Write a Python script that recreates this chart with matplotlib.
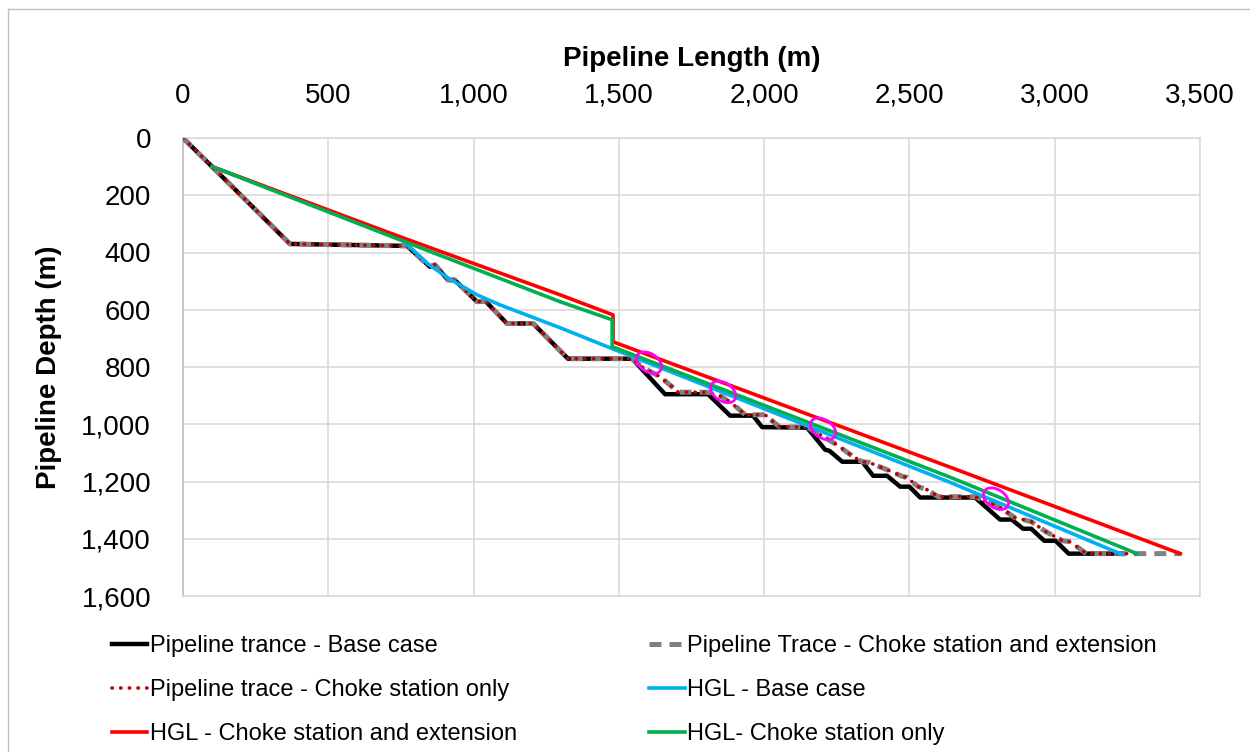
import matplotlib.pyplot as plt
from matplotlib.patches import Ellipse
from matplotlib.lines import Line2D
from matplotlib.ticker import FuncFormatter, MultipleLocator

plt.rcParams['font.family'] = ['Liberation Sans', 'DejaVu Sans']

# Pipeline trace - base case (length m, depth m)
base_x = [0, 100, 368, 771, 850, 867, 912, 935, 1012, 1040, 1115, 1205, 1325,
          1546, 1659, 1807, 1883, 1962, 1993, 2148, 2210, 2225, 2269, 2338,
          2375, 2423, 2468, 2500, 2537, 2726, 2812, 2852, 2891, 2919, 2964,
          3003, 3048, 3232]
base_d = [0, 100, 370, 377, 450, 443, 496, 496, 572, 569, 648, 648, 771,
          771, 895, 895, 970, 970, 1010, 1012, 1089, 1093, 1131, 1131,
          1180, 1180, 1218, 1218, 1256, 1256, 1333, 1333, 1365, 1365, 1407,
          1407, 1452, 1452]

# Pipeline trace - choke station (same up to 1546 m)
choke_x = [0, 100, 368, 771, 850, 867, 912, 935, 1012, 1040, 1115, 1205, 1325,
           1546, 1584, 1642, 1683, 1704, 1807, 1855, 1907, 1935, 2003, 2031,
           2053, 2148, 2251, 2306, 2338, 2360, 2423, 2478, 2490, 2530, 2561,
           2599, 2726, 2812, 2862, 2891, 2919, 2969, 3027, 3050, 3081, 3109]
choke_d = [0, 100, 370, 377, 450, 443, 496, 496, 572, 569, 648, 648, 771,
           771, 803, 834, 869, 888, 888, 904, 942, 967, 967, 991,
           1009, 1010, 1072, 1113, 1131, 1133, 1159, 1183, 1185, 1218, 1229,
           1253, 1253, 1290, 1326, 1333, 1340, 1375, 1407, 1410, 1431, 1452]
choke_only_end = 3283
choke_ext_end = 3432

# hydraulic grade lines
hgl_base_x = [100, 747, 771, 843, 912, 1012, 1091, 1298, 1470, 2640, 3232]
hgl_base_d = [100, 349, 372, 440, 489, 548, 583, 663, 733, 1203, 1455]
hgl_ext_x = [100, 747, 1298, 1480, 1480, 2640, 3432]
hgl_ext_d = [100, 345, 548, 618, 712, 1150, 1452]
hgl_only_x = [100, 747, 1298, 1477, 1477, 2640, 3283]
hgl_only_d = [100, 356, 572, 635, 729, 1185, 1452]

# highlighted spots
mark_x = [1604, 1859, 2203, 2798]
mark_d = [785, 887, 1016, 1260]

fig = plt.figure(figsize=(12.5, 7.52), dpi=100)
ax = fig.add_axes([183 / 1250, 1 - 596 / 752, 1017 / 1250, 458 / 752])

grid_c = '#d9d9d9'
ax.set_xlim(0, 3500)
ax.set_ylim(1600, 0)
ax.xaxis.set_major_locator(MultipleLocator(500))
ax.yaxis.set_major_locator(MultipleLocator(200))
fmt = FuncFormatter(lambda v, p: f'{int(v):,}')
ax.xaxis.set_major_formatter(fmt)
ax.yaxis.set_major_formatter(fmt)
ax.xaxis.tick_top()
ax.xaxis.set_label_position('top')
ax.tick_params(axis='x', length=0, pad=21, labelsize=20)
ax.tick_params(axis='y', length=0, pad=23, labelsize=20)
ax.grid(True, color=grid_c, lw=1.2)
ax.set_axisbelow(True)
for s in ax.spines.values():
    s.set_color(grid_c)
    s.set_linewidth(1.2)
ax.spines['left'].set_color('#bfbfbf')

ax.set_xlabel('Pipeline Length (m)', fontsize=20, fontweight='bold', labelpad=12)
ax.set_ylabel('Pipeline Depth (m)', fontsize=20, fontweight='bold', labelpad=14)

l_base, = ax.plot(base_x, base_d, color='black', lw=3.2, zorder=3)
l_ext, = ax.plot(choke_x + [choke_ext_end], choke_d + [1452], color='#808080',
                 lw=3.6, dashes=(2.4, 1.6), zorder=4)
l_only, = ax.plot(choke_x + [choke_only_end], choke_d + [1452], color='#c00000',
                  lw=2.6, dashes=(0.1, 2.3), dash_capstyle='round', zorder=5)
l_hb, = ax.plot(hgl_base_x, hgl_base_d, color='#00b0f0', lw=2.6, zorder=6)
l_he, = ax.plot(hgl_ext_x, hgl_ext_d, color='#ff0000', lw=2.6, zorder=7)
l_ho, = ax.plot(hgl_only_x, hgl_only_d, color='#00b050', lw=2.6, zorder=8)

for mx, md in zip(mark_x, mark_d):
    ax.add_patch(Ellipse((mx, md), 96, 63, angle=35, fill=False,
                         edgecolor='#ff00ff', lw=2.0, zorder=9))

handles = [l_base, l_only, l_he, l_ext, l_hb, l_ho]
labels = ['Pipeline trance - Base case',
          'Pipeline trace - Choke station only',
          'HGL - Choke station and extension',
          'Pipeline Trace - Choke station and extension',
          'HGL - Base case',
          'HGL- Choke station only']
fig.legend(handles, labels, ncol=2, loc='upper left',
           bbox_to_anchor=(112 / 1250, 1 - 635 / 752), frameon=False,
           fontsize=17, handlelength=1.5, handletextpad=0.1,
           columnspacing=5.6, labelspacing=0.93, borderpad=0, borderaxespad=0)

# outer chart border
fig.add_artist(Line2D([8 / 1250, 8 / 1250], [0, 1 - 9 / 752],
                      transform=fig.transFigure, color='#bfbfbf', lw=1))
fig.add_artist(Line2D([8 / 1250, 1], [1 - 9 / 752, 1 - 9 / 752],
                      transform=fig.transFigure, color='#bfbfbf', lw=1))

fig.savefig('out.png', dpi=100)
